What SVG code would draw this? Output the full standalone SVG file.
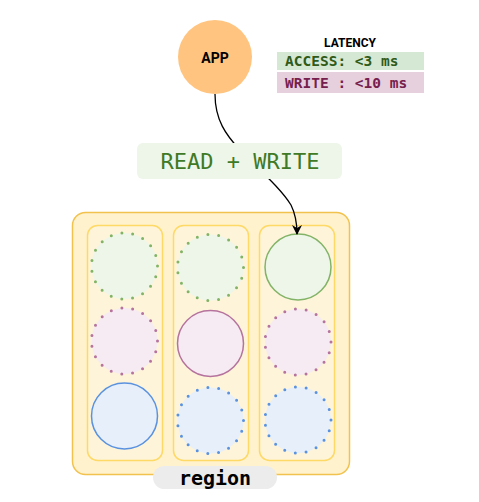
<svg xmlns="http://www.w3.org/2000/svg" width="479" height="502" viewBox="0 0 479 502">
<style>
.mono{font-family:"DejaVu Sans Mono","Liberation Mono",monospace}
.sans{font-family:"Roboto","Liberation Sans",sans-serif}
.col{fill:#fdf4da;stroke:#ffd966;stroke-width:1.5}
.g{fill:#eef6ea;stroke:#82b366}
.p{fill:#f6ebf2;stroke:#b5739d}
.b{fill:#e6effa;stroke:#5a92e0}
.solid{stroke-width:1.5}
.dot{stroke-width:3;stroke-dasharray:0 10.9;stroke-linecap:round}
</style>
<defs>
<marker id="arr" viewBox="0 0 10 10" refX="9" refY="5" markerWidth="10" markerHeight="10" markerUnits="userSpaceOnUse" orient="auto">
<path d="M0,0 L10,5 L0,10 L3,5 Z" fill="#000"/>
</marker>
</defs>
<rect width="479" height="502" fill="#fff"/>
<g id="region">
<rect x="72.5" y="212.5" width="277" height="262" rx="13" fill="#fff2cc" stroke="#f2c24f" stroke-width="1.5"/>
<rect x="153" y="466" width="124" height="23" rx="11.5" fill="#ececec"/>
<text x="215" y="485" text-anchor="middle" class="mono" font-size="20" font-weight="bold" fill="#000">region</text>
</g>
<g id="col1">
<rect class="col" x="87.5" y="225.5" width="75" height="235" rx="10"/>
<circle class="g dot" cx="124.5" cy="266" r="33"/>
<circle class="p dot" cx="124.5" cy="341" r="33"/>
<circle class="b solid" cx="124.5" cy="416" r="33"/>
</g>
<g id="col2">
<rect class="col" x="173.5" y="225.5" width="75" height="235" rx="10"/>
<circle class="g dot" cx="210.5" cy="267.5" r="33"/>
<circle class="p solid" cx="210.5" cy="343.5" r="33"/>
<circle class="b dot" cx="210.5" cy="420.5" r="33"/>
</g>
<g id="col3">
<rect class="col" x="259.5" y="225.5" width="75" height="235" rx="10"/>
<circle class="g solid" cx="298" cy="267" r="33"/>
<circle class="p dot" cx="298" cy="342" r="33"/>
<circle class="b dot" cx="298" cy="420" r="33"/>
</g>
<g id="app">
<circle cx="215" cy="57" r="37" fill="#ffc580"/>
<text x="215" y="63" text-anchor="middle" class="sans" font-size="14" font-weight="bold" fill="#000">APP</text>
</g>
<g id="latency">
<text x="350" y="47" text-anchor="middle" class="sans" font-size="12" font-weight="bold" fill="#000">LATENCY</text>
<rect x="277" y="52" width="147" height="18" fill="#d5e8d4"/>
<text x="285" y="66" class="mono" font-size="14.5" font-weight="bold" fill="#2f5a18">ACCESS: &lt;3 ms</text>
<rect x="277" y="72" width="147" height="21" fill="#e6d0de"/>
<text x="285" y="88" class="mono" font-size="14.5" font-weight="bold" fill="#76204e">WRITE : &lt;10 ms</text>
</g>
<g id="connectors">
<path d="M215,94 C215,120 226,135 240,150 C262,172 282,190 291,205 C296,215 297,225 297,234" fill="none" stroke="#000" stroke-width="1.3" marker-end="url(#arr)"/>
<rect x="137" y="143" width="205" height="36" rx="6" fill="#eef6ea"/>
<text x="240" y="169" text-anchor="middle" class="mono" font-size="22" fill="#3f7a26">READ + WRITE</text>
</g>
</svg>
